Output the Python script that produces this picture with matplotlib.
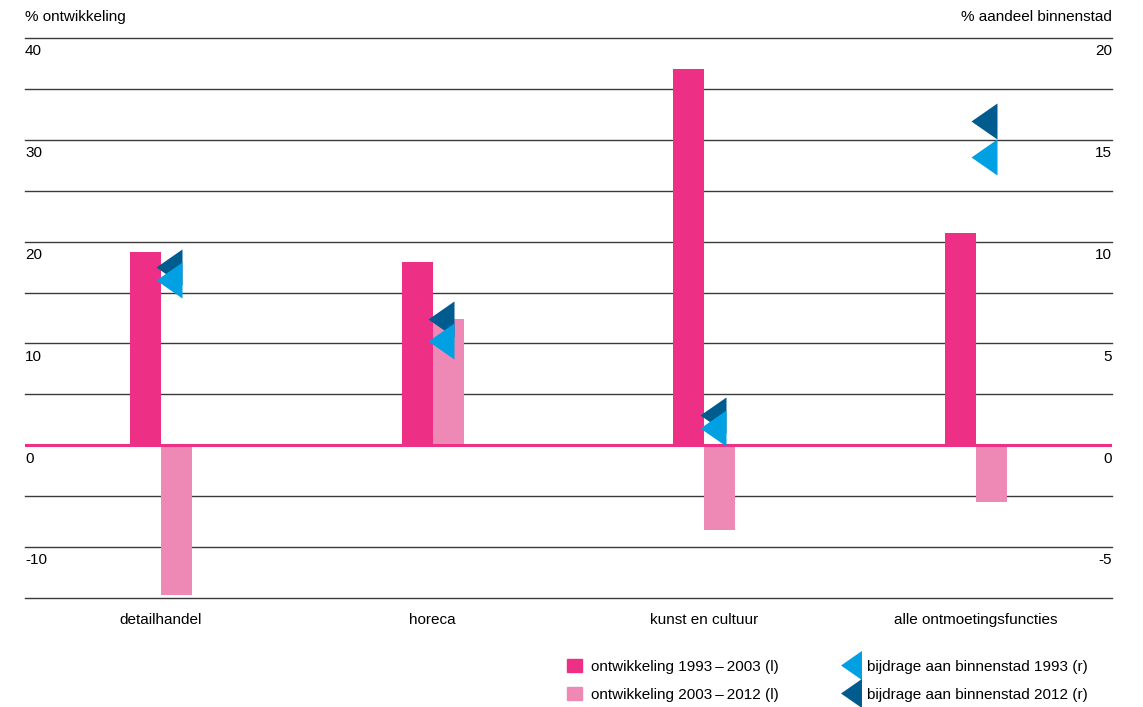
import numpy as np
import matplotlib.pyplot as plt
from matplotlib.patches import Patch
from matplotlib.lines import Line2D
from matplotlib.transforms import blended_transform_factory

plt.rcParams['font.family'] = ['Liberation Sans', 'DejaVu Sans']

categories = ['detailhandel', 'horeca', 'kunst en cultuur', 'alle ontmoetingsfuncties']
ontw_1993_2003 = [19.0, 18.0, 37.0, 20.8]     # % ontwikkeling (l)
ontw_2003_2012 = [-14.7, 12.4, -8.3, -5.6]    # % ontwikkeling (l)
aandeel_1993 = [8.1, 5.1, 0.85, 14.15]       # % aandeel binnenstad (r)
aandeel_2012 = [8.75, 6.2, 1.5, 15.9]        # % aandeel binnenstad (r)

left_ticks = [40, 30, 20, 10, 0, -10]
right_ticks = [20, 15, 10, 5, 0, -5]

pink = '#ED2F86'
light_pink = '#EE89B6'
light_blue = '#00A0E3'
dark_blue = '#005B8E'
grid_col = '#3a3a3a'
fs = 11

# driehoek naar links, punt op de waarde
tri = [(-0.72, 0), (0.72, -1), (0.72, 1), (-0.72, 0)]

fig = plt.figure(figsize=(11.43, 7.07), dpi=100)
ax = fig.add_axes([25 / 1143, 1 - 598 / 707, 1087 / 1143, 560 / 707])
ax2 = ax.twinx()

x = np.arange(len(categories))
w = 0.114

ax.set_xlim(-0.5, 3.5)
ax.set_ylim(-15, 40)
ax2.set_ylim(-7.5, 20)

for v in np.arange(-15, 41, 5):
    if v == 0:
        continue
    ax.axhline(v, color=grid_col, lw=1.0, zorder=1, clip_on=False)

ax.bar(x - w / 2, ontw_1993_2003, width=w, color=pink, zorder=2)
ax.bar(x + w / 2, ontw_2003_2012, width=w, color=light_pink, zorder=2)
ax.axhline(0, color=pink, lw=2.2, zorder=3)

ax2.plot(x + 0.03, aandeel_1993, ls='none', marker=tri, ms=26,
         color=light_blue, mew=0, zorder=4)
ax2.plot(x + 0.03, aandeel_2012, ls='none', marker=tri, ms=26,
         color=dark_blue, mew=0, zorder=3)

for a in (ax, ax2):
    for s in a.spines.values():
        s.set_visible(False)
    a.tick_params(left=False, right=False, bottom=False,
                  labelleft=False, labelright=False)

ax.set_xticks(x)
ax.set_xticklabels(categories, fontsize=fs)
ax.tick_params(axis='x', pad=7)

# aslabels onder de rasterlijnen
tl = blended_transform_factory(ax.transAxes, ax.transData)
for v in left_ticks:
    ax.annotate(str(v), (0, v), xycoords=tl, xytext=(0, -4.5),
                textcoords='offset points', ha='left', va='top', fontsize=fs)
tr = blended_transform_factory(ax2.transAxes, ax2.transData)
for v in right_ticks:
    ax2.annotate(str(v), (1, v), xycoords=tr, xytext=(0, -4.5),
                 textcoords='offset points', ha='right', va='top', fontsize=fs)

fig.text(25 / 1143, 1 - 17 / 707, '% ontwikkeling', ha='left', va='center', fontsize=fs)
fig.text(1112 / 1143, 1 - 17 / 707, '% aandeel binnenstad', ha='right', va='center', fontsize=fs)

handles = [
    Patch(color=pink),
    Patch(color=light_pink),
    Line2D([], [], ls='none', marker=tri, ms=21, color=light_blue, mew=0),
    Line2D([], [], ls='none', marker=tri, ms=21, color=dark_blue, mew=0),
]
labels = [
    'ontwikkeling 1993\u2009\u2013\u20092003 (l)',
    'ontwikkeling 2003\u2009\u2013\u20092012 (l)',
    'bijdrage aan binnenstad 1993 (r)',
    'bijdrage aan binnenstad 2012 (r)',
]
fig.legend(handles, labels, ncol=2, loc='upper left',
           bbox_to_anchor=(559 / 1143, 1 - 651 / 707), frameon=False,
           fontsize=fs, handlelength=1.0, handleheight=1.0,
           handletextpad=0.6, columnspacing=4.2, labelspacing=0.85,
           borderpad=0)

fig.savefig('out.png', dpi=100)
